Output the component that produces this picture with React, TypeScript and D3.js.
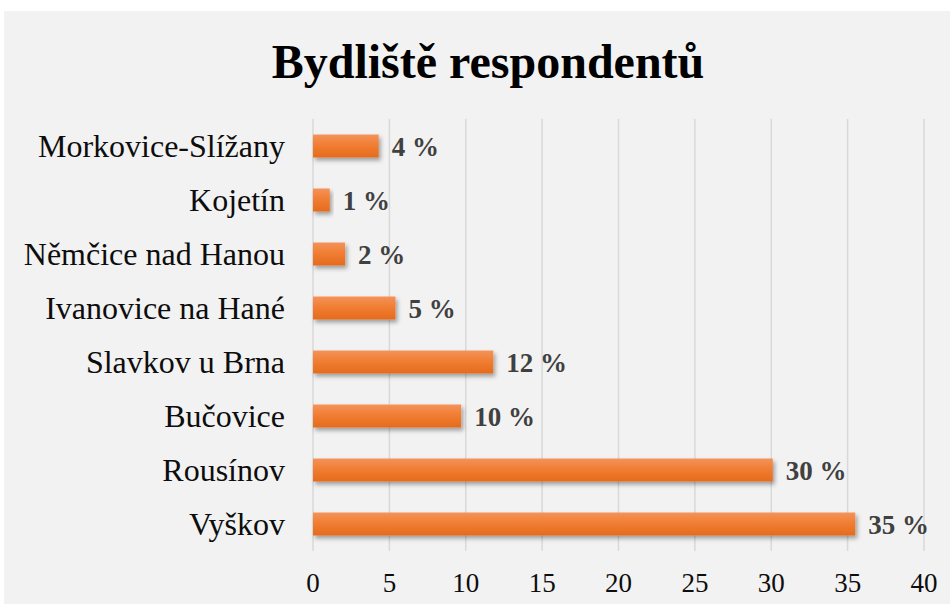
import React from "react";
import { scaleLinear, scaleBand } from "d3";

const categories = [
  "Morkovice-Slížany",
  "Kojetín",
  "Němčice nad Hanou",
  "Ivanovice na Hané",
  "Slavkov u Brna",
  "Bučovice",
  "Rousínov",
  "Vyškov",
];
const values = [4.3, 1.1, 2.1, 5.4, 11.8, 9.7, 30.1, 35.5];
const valueLabels = ["4 %", "1 %", "2 %", "5 %", "12 %", "10 %", "30 %", "35 %"];
const ticks = [0, 5, 10, 15, 20, 25, 30, 35, 40];

const width = 950;
const height = 604;
const margin = { top: 119, right: 26, bottom: 53, left: 313 };
const font = "'Liberation Serif', 'Times New Roman', serif";

const App = () => {
  const innerWidth = width - margin.left - margin.right;
  const innerHeight = height - margin.top - margin.bottom;

  const xScale = scaleLinear().domain([0, 40]).range([0, innerWidth]);
  const yScale = scaleBand()
    .domain(categories)
    .range([0, innerHeight])
    .paddingInner(0.575)
    .paddingOuter(0.2875);

  return (
    <svg
      width={width}
      height={height}
      style={{ position: "absolute", left: 0, top: 0, fontFamily: font }}
    >
      <defs>
        <linearGradient id="barGrad" x1="0" y1="0" x2="0" y2="1">
          <stop offset="0%" stopColor="#f4935a" />
          <stop offset="45%" stopColor="#f17e33" />
          <stop offset="100%" stopColor="#e46b1c" />
        </linearGradient>
        <filter id="shadow" x="-10%" y="-30%" width="130%" height="190%">
          <feDropShadow dx="2" dy="3" stdDeviation="2" floodColor="#000" floodOpacity="0.35" />
        </filter>
      </defs>
      <rect x={0} y={0} width={width} height={height} fill="#ffffff" />
      <rect x={4} y={11} width={width - 4} height={height - 11} fill="#f2f2f2" />

      <text
        x={488}
        y={78}
        textAnchor="middle"
        fontSize={48}
        fontWeight="bold"
        fill="#000"
      >
        Bydliště respondentů
      </text>

      <g transform={`translate(${margin.left}, ${margin.top})`}>
        {ticks.map((t) => (
          <g key={t} transform={`translate(${xScale(t)}, 0)`}>
            <line y1={0} y2={innerHeight} stroke="#d9d9d9" strokeWidth={1.5} />
            <text
              y={innerHeight + 41}
              textAnchor="middle"
              fontSize={27}
              fill="#0d0d0d"
            >
              {t}
            </text>
          </g>
        ))}

        {categories.map((c) => (
          <text
            key={c}
            x={-28}
            y={(yScale(c) ?? 0) + yScale.bandwidth() / 2}
            dy="0.33em"
            textAnchor="end"
            fontSize={32}
            fill="#0d0d0d"
          >
            {c}
          </text>
        ))}

        {categories.map((c, i) => (
          <rect
            key={c}
            x={0}
            y={yScale(c)}
            width={xScale(values[i])}
            height={yScale.bandwidth()}
            fill="url(#barGrad)"
            filter="url(#shadow)"
          />
        ))}

        {categories.map((c, i) => (
          <text
            key={c}
            x={xScale(values[i]) + 13}
            y={(yScale(c) ?? 0) + yScale.bandwidth() / 2}
            dy="0.37em"
            fontSize={27}
            fontWeight="bold"
            fill="#404040"
          >
            {valueLabels[i]}
          </text>
        ))}
      </g>
    </svg>
  );
};

export default App;
